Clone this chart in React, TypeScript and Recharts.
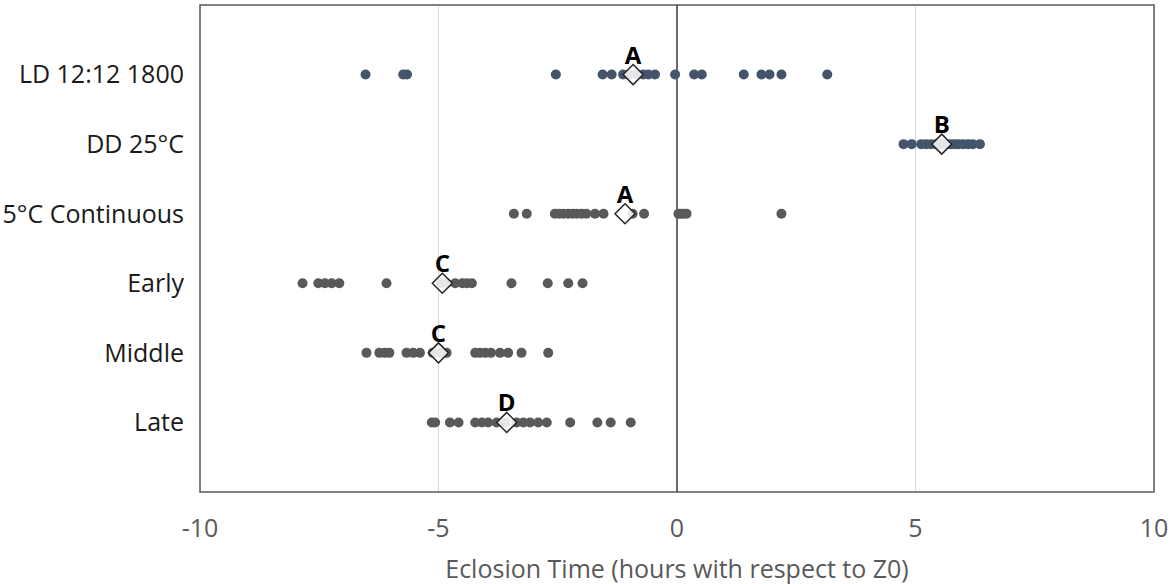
import { ScatterChart, Scatter, XAxis, YAxis, CartesianGrid, ReferenceLine, ReferenceArea } from 'recharts';

const rowLabels = ['LD 12:12 1800', 'DD 25°C', '5°C Continuous', 'Early', 'Middle', 'Late'];
const xTicks = [-10, -5, 0, 5, 10];

const ldTimes = [-6.53, -5.74, -5.66, -2.54, -1.56, -1.37, -1.13, -1.0, -0.85, -0.71, -0.6, -0.46, -0.04, 0.36, 0.52, 1.4, 1.77, 1.94, 2.19, 3.15];
const ddTimes = [4.75, 4.92, 5.12, 5.22, 5.32, 5.42, 5.5, 5.58, 5.66, 5.74, 5.82, 5.9, 6.0, 6.1, 6.2, 6.35];
const coldTimes = [-3.42, -3.15, -2.56, -2.47, -2.38, -2.28, -2.19, -2.1, -2.0, -1.9, -1.72, -1.54, -0.93, -0.69, 0.03, 0.08, 0.13, 0.2, 2.19];
const earlyTimes = [-7.85, -7.52, -7.38, -7.24, -7.08, -6.09, -4.95, -4.83, -4.65, -4.5, -4.4, -4.3, -3.47, -2.71, -2.28, -1.98];
const middleTimes = [-6.51, -6.24, -6.13, -6.03, -5.67, -5.53, -5.39, -5.12, -4.95, -4.83, -4.23, -4.13, -4.02, -3.9, -3.71, -3.54, -3.26, -2.7];
const lateTimes = [-5.14, -5.07, -4.76, -4.58, -4.23, -4.09, -3.96, -3.78, -3.6, -3.36, -3.22, -3.08, -2.91, -2.73, -2.24, -1.67, -1.39, -0.97];

const meanTimes = [-0.92, 5.55, -1.09, -4.92, -5.0, -3.57];
const groupLetters = ['A', 'B', 'A', 'C', 'C', 'D'];

const rows = [ldTimes, ddTimes, coldTimes, earlyTimes, middleTimes, lateTimes];
const rowColors = ['#44546A', '#44546A', '#595959', '#595959', '#595959', '#595959'];

const meanData = meanTimes.map((x, i) => ({ x, y: i + 1, letter: groupLetters[i] }));

const dot = (color: string) => (props: any) => (
  <circle cx={props.cx} cy={props.cy} r={5} fill={color} />
);

const MeanMarker = (props: any) => {
  const { cx, cy, payload } = props;
  const h = 10;
  return (
    <g>
      <polygon
        points={`${cx},${cy - h} ${cx + h},${cy} ${cx},${cy + h} ${cx - h},${cy}`}
        fill="#fff"
        fillOpacity={0.85}
        stroke="#262626"
        strokeWidth={1.5}
      />
      <text x={cx} y={cy - 11} textAnchor="middle" fontSize={24} fontWeight="bold" fill="#000">
        {payload.letter}
      </text>
    </g>
  );
};

export default function App() {
  return (
    <div style={{ position: 'absolute', left: 0, top: 0, fontFamily: '"Open Sans", sans-serif' }}>
      <ScatterChart width={1173} height={584} margin={{ top: 5, right: 19, bottom: 0, left: 0 }}>
        <CartesianGrid horizontal={false} stroke="#d9d9d9" />
        <XAxis
          type="number"
          dataKey="x"
          domain={[-10, 10]}
          ticks={xTicks}
          interval={0}
          axisLine={false}
          tickLine={false}
          tickSize={0}
          tickMargin={27}
          height={92}
          tick={{ fontSize: 25, fill: '#595959' }}
          label={{ value: 'Eclosion Time (hours with respect to Z0)', position: 'insideBottom', offset: 6, fontSize: 25, fill: '#595959' }}
        />
        <YAxis
          type="number"
          dataKey="y"
          domain={[0, 7]}
          reversed
          ticks={[1, 2, 3, 4, 5, 6]}
          interval={0}
          tickFormatter={(v: number) => rowLabels[v - 1]}
          width={200}
          axisLine={false}
          tickLine={false}
          tickSize={0}
          tickMargin={16}
          tick={{ fontSize: 25, fill: '#1a1a1a' }}
        />
        <ReferenceArea x1={-10} x2={10} y1={0} y2={7} fill="none" stroke="#595959" strokeWidth={1.5} ifOverflow="visible" />
        <ReferenceLine x={0} stroke="#404040" strokeWidth={1.5} />
        {rows.map((times, i) => (
          <Scatter
            key={rowLabels[i]}
            data={times.map((x) => ({ x, y: i + 1 }))}
            shape={dot(rowColors[i])}
            isAnimationActive={false}
          />
        ))}
        <Scatter data={meanData} shape={MeanMarker} isAnimationActive={false} />
      </ScatterChart>
    </div>
  );
}
